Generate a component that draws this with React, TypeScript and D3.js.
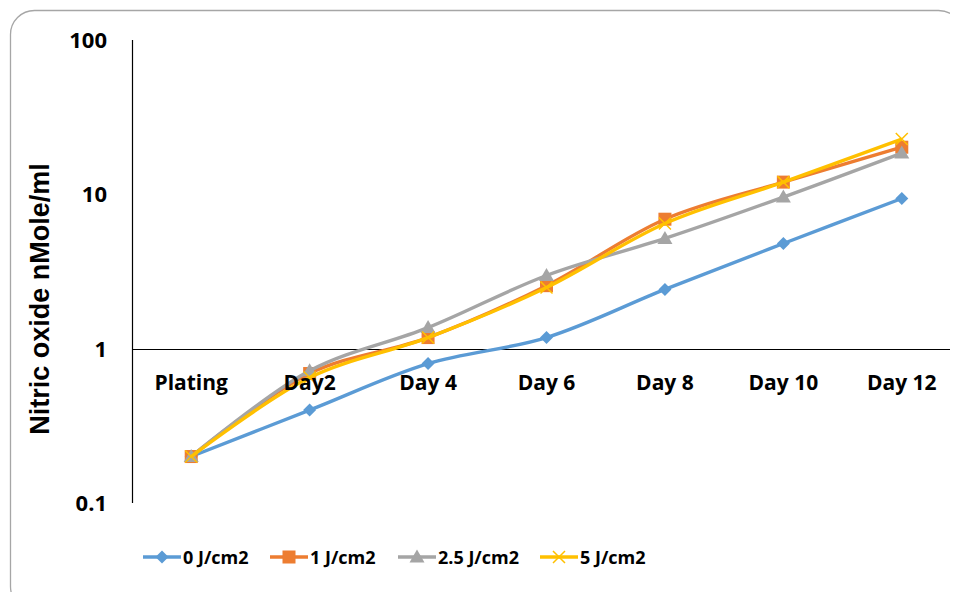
import * as d3 from "d3";
import { useEffect, useRef } from "react";

const categories = ["Plating", "Day2", "Day 4", "Day 6", "Day 8", "Day 10", "Day 12"];
const yTicks = [0.1, 1, 10, 100];

const seriesNames = ["0 J/cm2", "1 J/cm2", "2.5 J/cm2", "5 J/cm2"];
const values0 = [0.2, 0.4, 0.8, 1.18, 2.42, 4.8, 9.4];
const values1 = [0.2, 0.69, 1.18, 2.56, 6.9, 12.0, 20.2];
const values25 = [0.2, 0.72, 1.37, 2.98, 5.18, 9.6, 18.5];
const values5 = [0.2, 0.65, 1.18, 2.49, 6.47, 12.0, 22.8];
const colors = ["#5b9bd5", "#ed7d31", "#a5a5a5", "#ffc000"];
const markers = ["diamond", "square", "triangle", "x"];

const font = "'Open Sans', Lato, sans-serif";

const App = () => {
  const svgRef = useRef(null);

  useEffect(() => {
    const svg = d3.select(svgRef.current);
    svg.selectAll("*").remove();

    const allSeries = [values0, values1, values25, values5];

    // rounded chart frame
    svg
      .append("rect")
      .attr("x", 10.5)
      .attr("y", 10.5)
      .attr("width", 952)
      .attr("height", 600)
      .attr("rx", 24)
      .attr("fill", "#fff")
      .attr("stroke", "#a6a6a6")
      .attr("stroke-width", 1.3);

    const x = d3.scaleBand().domain(categories).range([132, 961]);
    const y = d3.scaleLog().domain([0.1, 100]).range([503, 40]);

    // y axis line
    svg
      .append("line")
      .attr("x1", 132.5)
      .attr("x2", 132.5)
      .attr("y1", y(100))
      .attr("y2", y(0.1))
      .attr("stroke", "#000")
      .attr("stroke-width", 1.2);

    // horizontal axis crossing at 1
    svg
      .append("line")
      .attr("x1", 132)
      .attr("x2", 958)
      .attr("y1", Math.round(y(1)) + 0.5)
      .attr("y2", Math.round(y(1)) + 0.5)
      .attr("stroke", "#000")
      .attr("stroke-width", 1.2);

    svg
      .append("g")
      .selectAll("text")
      .data(yTicks)
      .enter()
      .append("text")
      .attr("x", 107)
      .attr("y", (d) => y(d))
      .attr("dy", "0.36em")
      .attr("text-anchor", "end")
      .attr("font-family", font)
      .attr("font-weight", "bold")
      .attr("font-size", 22)
      .text((d) => String(d));

    svg
      .append("text")
      .attr("transform", "translate(49, 299) rotate(-90)")
      .attr("text-anchor", "middle")
      .attr("font-family", "'Liberation Sans', Arial, sans-serif")
      .attr("font-weight", "bold")
      .attr("font-size", 27)
      .text("Nitric oxide nMole/ml");

    const cx = (i) => x(categories[i]) + x.bandwidth() / 2;
    const line = d3
      .line()
      .x((d, i) => cx(i))
      .y((d) => y(d))
      .curve(d3.curveCatmullRom.alpha(0.5));

    const drawMarker = (g, type, color, px, py) => {
      if (type === "diamond") {
        g.append("path")
          .attr("d", `M${px},${py - 6.5}L${px + 6.5},${py}L${px},${py + 6.5}L${px - 6.5},${py}Z`)
          .attr("fill", color);
      } else if (type === "square") {
        g.append("rect")
          .attr("x", px - 6.5)
          .attr("y", py - 6.5)
          .attr("width", 13)
          .attr("height", 13)
          .attr("fill", color);
      } else if (type === "triangle") {
        g.append("path")
          .attr("d", `M${px},${py - 7.5}L${px + 7.5},${py + 5.5}L${px - 7.5},${py + 5.5}Z`)
          .attr("fill", color);
      } else {
        g.append("path")
          .attr("d", `M${px - 6},${py - 6}L${px + 6},${py + 6}M${px + 6},${py - 6}L${px - 6},${py + 6}`)
          .attr("stroke", color)
          .attr("stroke-width", 1.5)
          .attr("fill", "none");
      }
    };

    allSeries.forEach((vals, s) => {
      const g = svg.append("g");
      g.append("path")
        .attr("d", line(vals))
        .attr("fill", "none")
        .attr("stroke", colors[s])
        .attr("stroke-width", 3.4)
        .attr("stroke-linejoin", "round");
      vals.forEach((v, i) => drawMarker(g, markers[s], colors[s], cx(i), y(v)));
    });

    // category labels sit on top of the lines
    svg
      .append("g")
      .selectAll("text")
      .data(categories)
      .enter()
      .append("text")
      .attr("x", (d) => x(d) + x.bandwidth() / 2)
      .attr("y", 390)
      .attr("text-anchor", "middle")
      .attr("font-family", font)
      .attr("font-weight", "bold")
      .attr("font-size", 21)
      .text((d) => d);

    // legend
    const legendX = [143, 270, 398, 540];
    const ly = 557;
    seriesNames.forEach((name, s) => {
      const g = svg.append("g");
      const x0 = legendX[s];
      g.append("line")
        .attr("x1", x0)
        .attr("x2", x0 + 38)
        .attr("y1", ly)
        .attr("y2", ly)
        .attr("stroke", colors[s])
        .attr("stroke-width", 3.4);
      drawMarker(g, markers[s], colors[s], x0 + 19, ly);
      g.append("text")
        .attr("x", x0 + 40)
        .attr("y", ly + 7)
        .attr("font-family", font)
        .attr("font-weight", "bold")
        .attr("font-size", 18)
        .text(name);
    });
  }, []);

  return (
    <div>
      <svg ref={svgRef} width={950} height={592} style={{ display: "block", marginTop: -8, marginLeft: -8 }}></svg>
    </div>
  );
};

export default App;
